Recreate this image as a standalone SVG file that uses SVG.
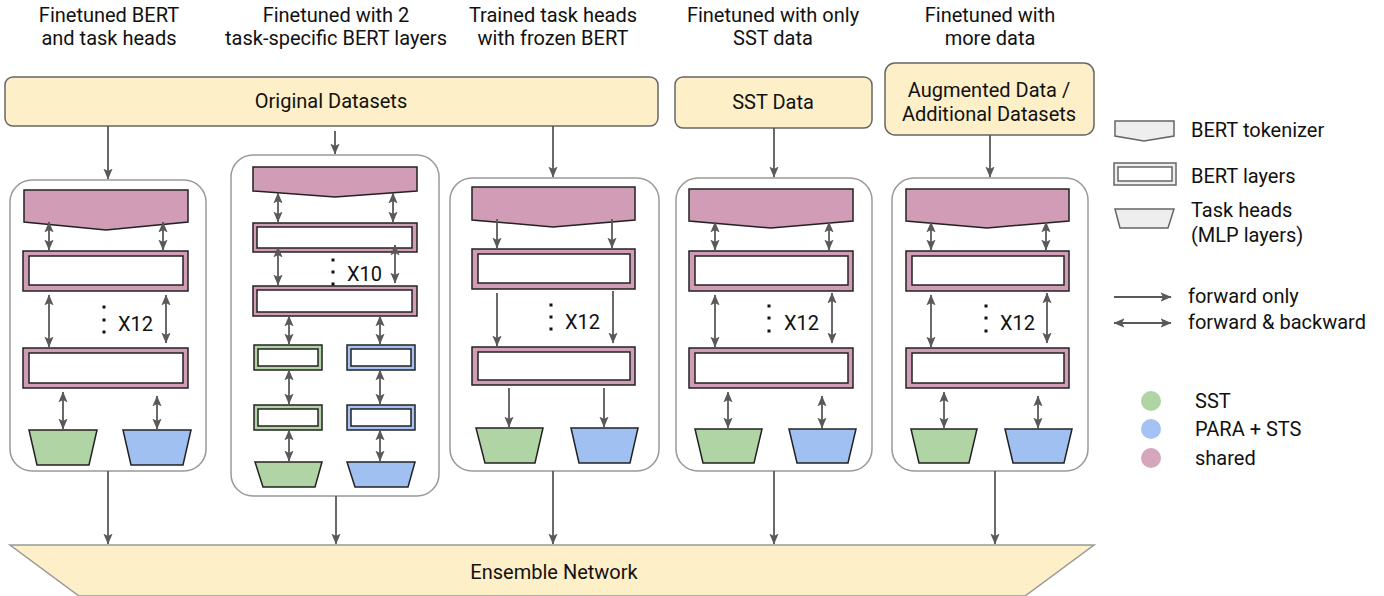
<svg xmlns="http://www.w3.org/2000/svg" width="1384" height="596" viewBox="0 0 1384 596">
<defs>
<marker id="ah" viewBox="0 0 10 10" refX="9.5" refY="5" markerWidth="11" markerHeight="11" markerUnits="userSpaceOnUse" orient="auto-start-reverse">
<path d="M0,0.8 L10,5 L0,9.2 L2.2,5 z" fill="#595959"/>
</marker>
</defs>
<style>
text{font-family:Roboto,"Liberation Sans",sans-serif;fill:#111;}
.t{font-size:20px;text-anchor:middle;}
.lg{font-size:20px;}
.xl{font-size:20px;}
.data{fill:#fdefc8;stroke:#666;stroke-width:1.5;}
.cont{fill:#fff;stroke:#999;stroke-width:1.5;}
.tok{fill:#d09cb6;stroke:#222;stroke-width:1.5;}
.lo{fill:#d09cb6;stroke:#222;stroke-width:1.5;}
.lg1{fill:#b0d4a3;stroke:#222;stroke-width:1.5;}
.lb1{fill:#a4c2f4;stroke:#222;stroke-width:1.5;}
.li{fill:#fff;stroke:#222;stroke-width:1.5;}
.hg{fill:#b0d4a3;stroke:#222;stroke-width:1.5;}
.hb{fill:#a0c0f2;stroke:#222;stroke-width:1.5;}
.ens{fill:#fdefc8;stroke:#999;stroke-width:1.5;}
.a1{stroke:#595959;stroke-width:1.8;fill:none;marker-end:url(#ah);}
.a2{stroke:#595959;stroke-width:1.8;fill:none;marker-start:url(#ah);marker-end:url(#ah);}
.dot{fill:#111;}
.lgi{fill:#eee;stroke:#666;stroke-width:1.5;}
.lgw{fill:#fff;stroke:#666;stroke-width:1.5;}
</style>

<g id="titles">
<text class="t" x="109" y="22">Finetuned BERT</text>
<text class="t" x="109" y="45">and task heads</text>
<text class="t" x="336" y="22">Finetuned with 2</text>
<text class="t" x="336" y="45">task-specific BERT layers</text>
<text class="t" x="553" y="22">Trained task heads</text>
<text class="t" x="553" y="45">with frozen BERT</text>
<text class="t" x="773" y="22">Finetuned with only</text>
<text class="t" x="773" y="45">SST data</text>
<text class="t" x="990" y="22">Finetuned with</text>
<text class="t" x="990" y="45">more data</text>
</g>

<g id="original-datasets">
<rect class="data" x="5" y="77" width="653" height="49" rx="8"/>
<text class="t" x="331" y="108">Original Datasets</text>
</g>
<g id="sst-data">
<rect class="data" x="675" y="77" width="197" height="51" rx="8"/>
<text class="t" x="773" y="109">SST Data</text>
</g>
<g id="augmented-data">
<rect class="data" x="885" y="63" width="209" height="72" rx="10"/>
<text class="t" x="989" y="97">Augmented Data /</text>
<text class="t" x="989" y="121">Additional Datasets</text>
</g>

<g id="col1">
<rect class="cont" x="10" y="180" width="196" height="291" rx="22"/>
<polygon class="tok" points="24,190 188,190 188,222 106,230 24,222"/>
<rect class="lo" x="23" y="251" width="165" height="40"/>
<rect class="li" x="29" y="256" width="154" height="29"/>
<rect class="lo" x="23" y="348" width="165" height="40"/>
<rect class="li" x="29" y="353" width="154" height="30"/>
<rect class="dot" x="102.5" y="305.5" width="3" height="3"/>
<rect class="dot" x="102.5" y="318.5" width="3" height="3"/>
<rect class="dot" x="102.5" y="330.5" width="3" height="3"/>
<text class="xl" x="118" y="331">X12</text>
<polygon class="hg" points="29,430 97,430 89,465 37,465"/>
<polygon class="hb" points="123,430 191,430 183,465 131,465"/>
</g>

<g id="col2">
<rect class="cont" x="231" y="155" width="208" height="341" rx="22"/>
<polygon class="tok" points="253,167 417,167 417,191 335,197 253,191"/>
<rect class="lo" x="253" y="223" width="164" height="29"/>
<rect class="li" x="257" y="227" width="155" height="21"/>
<rect class="lo" x="253" y="286" width="164" height="30"/>
<rect class="li" x="257" y="290" width="155" height="22"/>
<rect class="dot" x="331.5" y="258.5" width="3" height="3"/>
<rect class="dot" x="331.5" y="270.5" width="3" height="3"/>
<rect class="dot" x="331.5" y="282.5" width="3" height="3"/>
<text class="xl" x="347" y="281">X10</text>
<rect class="lg1" x="254" y="345" width="68" height="25"/>
<rect class="li" x="258" y="349" width="60" height="17"/>
<rect class="lg1" x="254" y="405" width="68" height="25"/>
<rect class="li" x="258" y="409" width="60" height="17"/>
<rect class="lb1" x="347" y="345" width="68" height="25"/>
<rect class="li" x="351" y="349" width="60" height="17"/>
<rect class="lb1" x="347" y="405" width="68" height="25"/>
<rect class="li" x="351" y="409" width="60" height="17"/>
<polygon class="hg" points="255,462 322,462 315,487 263,487"/>
<polygon class="hb" points="347,462 415,462 408,487 355,487"/>
</g>

<g id="col3">
<rect class="cont" x="450" y="178" width="209" height="293" rx="22"/>
<polygon class="tok" points="472,187 635,187 635,220 553,227 472,220"/>
<rect class="lo" x="472" y="249" width="163" height="40"/>
<rect class="li" x="478" y="254" width="152" height="29"/>
<rect class="lo" x="472" y="347" width="163" height="38"/>
<rect class="li" x="478" y="352" width="152" height="28"/>
<rect class="dot" x="549.5" y="303.5" width="3" height="3"/>
<rect class="dot" x="549.5" y="315.5" width="3" height="3"/>
<rect class="dot" x="549.5" y="327.5" width="3" height="3"/>
<text class="xl" x="565" y="329">X12</text>
<polygon class="hg" points="476,428 543,428 535,463 485,463"/>
<polygon class="hb" points="571,428 638,428 630,463 579,463"/>
</g>

<g id="col4">
<rect class="cont" x="676" y="178" width="196" height="293" rx="22"/>
<polygon class="tok" points="689,189 853,189 853,221 771,228 689,221"/>
<rect class="lo" x="689" y="251" width="164" height="40"/>
<rect class="li" x="695" y="256" width="153" height="29"/>
<rect class="lo" x="689" y="348" width="164" height="40"/>
<rect class="li" x="695" y="353" width="153" height="30"/>
<rect class="dot" x="767.5" y="304.5" width="3" height="3"/>
<rect class="dot" x="767.5" y="316.5" width="3" height="3"/>
<rect class="dot" x="767.5" y="329.5" width="3" height="3"/>
<text class="xl" x="784" y="330">X12</text>
<polygon class="hg" points="695,429 762,429 754,463 703,463"/>
<polygon class="hb" points="789,429 856,429 848,463 797,463"/>
</g>

<g id="col5">
<rect class="cont" x="892" y="178" width="196" height="293" rx="22"/>
<polygon class="tok" points="906,189 1069,189 1069,221 987,228 906,221"/>
<rect class="lo" x="906" y="251" width="163" height="40"/>
<rect class="li" x="912" y="256" width="152" height="29"/>
<rect class="lo" x="906" y="348" width="163" height="40"/>
<rect class="li" x="912" y="353" width="152" height="30"/>
<rect class="dot" x="984.5" y="304.5" width="3" height="3"/>
<rect class="dot" x="984.5" y="316.5" width="3" height="3"/>
<rect class="dot" x="984.5" y="329.5" width="3" height="3"/>
<text class="xl" x="1000" y="330">X12</text>
<polygon class="hg" points="911,429 977,429 969,463 919,463"/>
<polygon class="hb" points="1005,429 1072,429 1064,463 1013,463"/>
</g>

<g id="ensemble-network">
<polygon class="ens" points="10,545 1094,545 1025,596 79,596"/>
<text class="t" x="554" y="579">Ensemble Network</text>
</g>

<g id="legend">
<polygon class="lgi" points="1115,121 1174,121 1174,136 1144,141 1115,136"/>
<text class="lg" x="1191" y="137">BERT tokenizer</text>
<rect class="lgi" x="1114" y="163" width="62" height="22"/>
<rect class="lgw" x="1118" y="167" width="54" height="14"/>
<text class="lg" x="1191" y="183">BERT layers</text>
<polygon class="lgi" points="1115,209 1174,209 1168,228 1120,228"/>
<text class="lg" x="1191" y="217">Task heads</text>
<text class="lg" x="1191" y="242">(MLP layers)</text>
<line class="a1" x1="1114" y1="297" x2="1171" y2="297"/>
<text class="lg" x="1188" y="303">forward only</text>
<line class="a2" x1="1114" y1="323" x2="1171" y2="323"/>
<text class="lg" x="1188" y="329">forward &amp; backward</text>
<circle cx="1151" cy="401" r="10" fill="#b0d4a3"/>
<text class="lg" x="1195" y="408">SST</text>
<circle cx="1151" cy="429" r="10" fill="#a4c2f4"/>
<text class="lg" x="1195" y="436">PARA + STS</text>
<circle cx="1151" cy="458" r="10" fill="#d5a6bd"/>
<text class="lg" x="1195" y="465">shared</text>
</g>

<g id="connectors">
<line class="a1" x1="108" y1="126" x2="108" y2="179"/>
<line class="a1" x1="335" y1="131" x2="335" y2="154"/>
<line class="a1" x1="553" y1="126" x2="553" y2="177"/>
<line class="a1" x1="774" y1="128" x2="774" y2="177"/>
<line class="a1" x1="990" y1="135" x2="990" y2="177"/>

<line class="a1" x1="108" y1="471" x2="108" y2="544"/>
<line class="a1" x1="336" y1="496" x2="336" y2="544"/>
<line class="a1" x1="553" y1="471" x2="553" y2="544"/>
<line class="a1" x1="774" y1="471" x2="774" y2="544"/>
<line class="a1" x1="995" y1="471" x2="995" y2="544"/>

<line class="a2" x1="49" y1="222" x2="49" y2="250"/>
<line class="a2" x1="163" y1="222" x2="163" y2="250"/>
<line class="a2" x1="49" y1="295" x2="49" y2="347"/>
<line class="a2" x1="166" y1="295" x2="166" y2="343"/>
<line class="a2" x1="63" y1="392" x2="63" y2="429"/>
<line class="a2" x1="157" y1="396" x2="157" y2="429"/>

<line class="a2" x1="278" y1="193" x2="278" y2="222"/>
<line class="a2" x1="393" y1="193" x2="393" y2="222"/>
<line class="a2" x1="278" y1="247" x2="278" y2="285"/>
<line class="a2" x1="395" y1="245" x2="395" y2="283"/>
<line class="a2" x1="289" y1="316" x2="289" y2="344"/>
<line class="a2" x1="380" y1="316" x2="380" y2="344"/>
<line class="a2" x1="289" y1="370" x2="289" y2="404"/>
<line class="a2" x1="380" y1="370" x2="380" y2="404"/>
<line class="a2" x1="289" y1="430" x2="289" y2="461"/>
<line class="a2" x1="380" y1="430" x2="380" y2="461"/>

<line class="a1" x1="497" y1="219" x2="497" y2="248"/>
<line class="a1" x1="612" y1="219" x2="612" y2="248"/>
<line class="a1" x1="497" y1="293" x2="497" y2="346"/>
<line class="a1" x1="613" y1="291" x2="613" y2="343"/>
<line class="a1" x1="509" y1="388" x2="509" y2="427"/>
<line class="a1" x1="604" y1="388" x2="604" y2="427"/>

<line class="a2" x1="715" y1="222" x2="715" y2="250"/>
<line class="a2" x1="829" y1="222" x2="829" y2="250"/>
<line class="a2" x1="715" y1="295" x2="715" y2="347"/>
<line class="a2" x1="832" y1="293" x2="832" y2="343"/>
<line class="a2" x1="728" y1="392" x2="728" y2="428"/>
<line class="a2" x1="822" y1="396" x2="822" y2="428"/>

<line class="a2" x1="931" y1="222" x2="931" y2="250"/>
<line class="a2" x1="1046" y1="222" x2="1046" y2="250"/>
<line class="a2" x1="931" y1="295" x2="931" y2="347"/>
<line class="a2" x1="1047" y1="293" x2="1047" y2="343"/>
<line class="a2" x1="944" y1="392" x2="944" y2="428"/>
<line class="a2" x1="1038" y1="396" x2="1038" y2="428"/>
</g>
</svg>
